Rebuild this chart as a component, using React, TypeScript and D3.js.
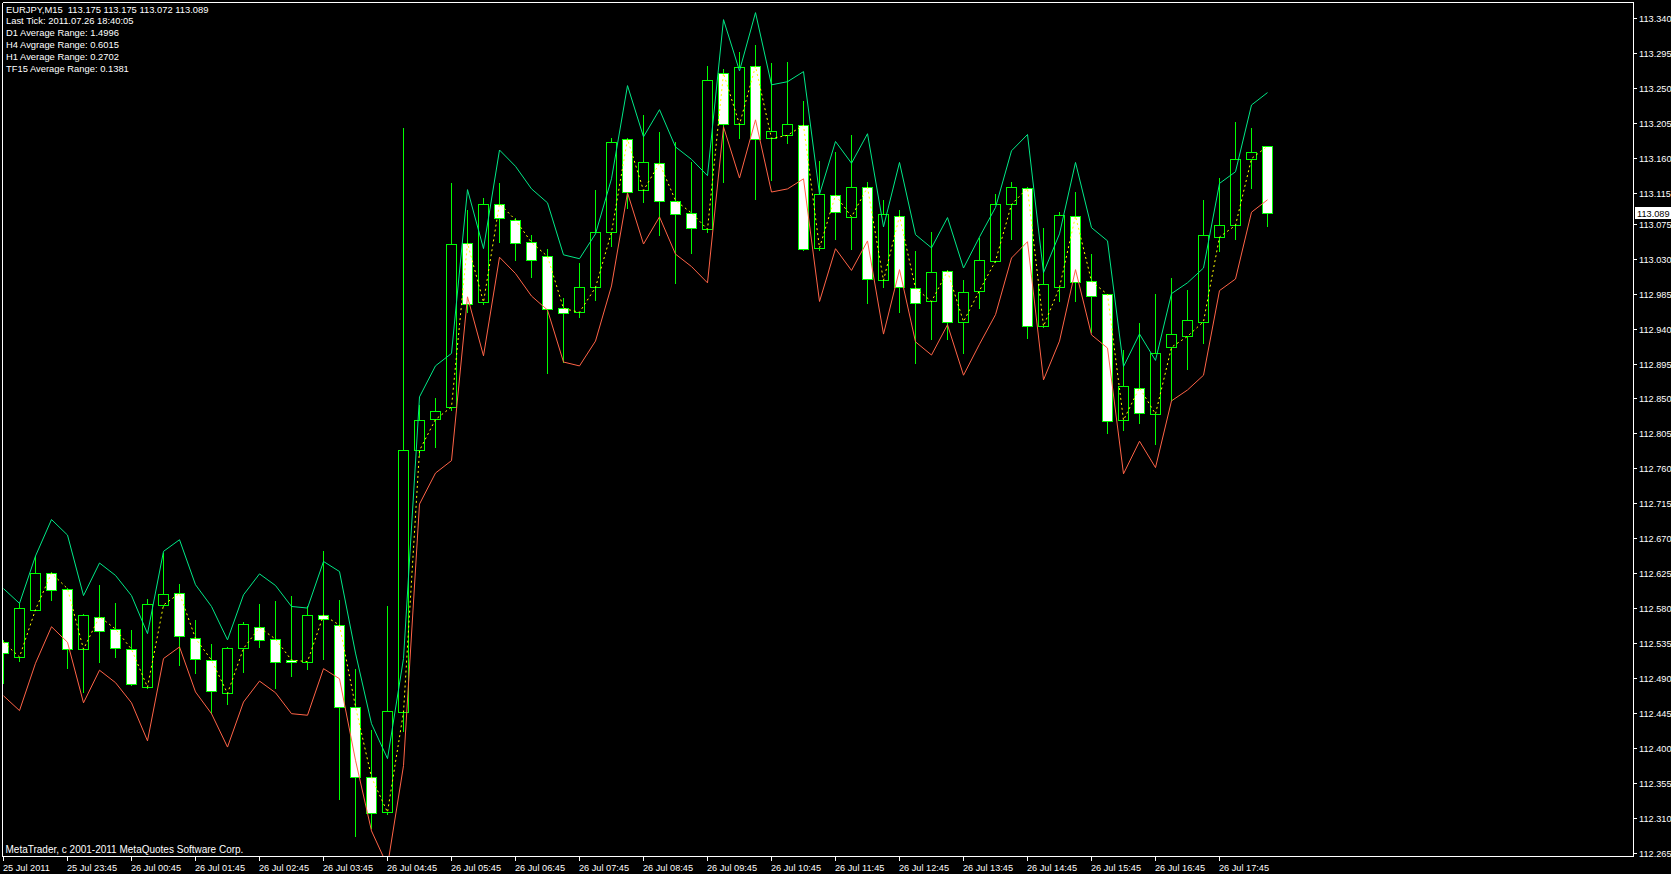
import React from "react";
import * as d3 from "d3";

const W = 1671;
const H = 874;

// OHLC per M15 bar (25 Jul 22:45 .. 26 Jul 18:30)
const opens = [
  112.536, 112.517, 112.578, 112.625, 112.605, 112.527, 112.569, 112.553, 112.527, 112.478,
  112.584, 112.599, 112.541, 112.513, 112.470, 112.528, 112.555, 112.540, 112.513, 112.511,
  112.571, 112.558, 112.453, 112.362, 112.317, 112.446, 112.783, 112.823, 112.839, 113.050,
  112.974, 113.101, 113.080, 113.051, 113.033, 112.966, 112.961, 112.993, 113.064, 113.184,
  113.118, 113.153, 113.105, 113.089, 113.068, 113.269, 113.203, 113.278, 113.185, 113.189,
  113.202, 113.044, 113.112, 113.084, 113.122, 113.002, 113.085, 112.992, 112.975, 113.014,
  112.949, 112.989, 113.027, 113.100, 113.121, 112.943, 112.993, 113.085, 113.001, 112.984,
  112.822, 112.864, 112.830, 112.916, 112.930, 112.949, 113.058, 113.073, 113.159, 113.175,
];
const highs = [
  112.539, 112.586, 112.647, 112.626, 112.606, 112.572, 112.610, 112.586, 112.552, 112.592,
  112.651, 112.611, 112.565, 112.534, 112.530, 112.562, 112.585, 112.589, 112.596, 112.583,
  112.654, 112.591, 112.502, 112.423, 112.583, 113.198, 112.842, 112.850, 113.127, 113.093,
  113.108, 113.127, 113.083, 113.061, 113.042, 112.980, 113.024, 113.119, 113.186, 113.185,
  113.215, 113.193, 113.180, 113.154, 113.278, 113.274, 113.296, 113.305, 113.282, 113.283,
  113.233, 113.156, 113.167, 113.190, 113.129, 113.106, 113.093, 113.040, 113.064, 113.016,
  113.003, 113.057, 113.114, 113.129, 113.122, 113.070, 113.090, 113.116, 113.036, 112.985,
  112.913, 112.947, 112.984, 113.005, 112.990, 113.106, 113.134, 113.206, 113.199, 113.175,
];
const lows = [
  112.483, 112.512, 112.577, 112.590, 112.503, 112.472, 112.510, 112.517, 112.481, 112.477,
  112.583, 112.507, 112.497, 112.445, 112.457, 112.498, 112.530, 112.477, 112.492, 112.501,
  112.514, 112.334, 112.287, 112.297, 112.315, 112.422, 112.777, 112.787, 112.835, 112.962,
  112.972, 113.051, 113.028, 113.007, 112.883, 112.897, 112.955, 112.977, 113.046, 113.096,
  113.103, 113.060, 112.999, 113.037, 113.065, 113.129, 113.186, 113.107, 113.132, 113.179,
  113.041, 113.041, 113.056, 113.042, 112.973, 112.994, 112.962, 112.896, 112.927, 112.927,
  112.909, 112.967, 113.026, 113.056, 112.928, 112.942, 112.976, 112.976, 112.935, 112.806,
  112.809, 112.819, 112.791, 112.848, 112.888, 112.922, 113.040, 113.056, 113.121, 113.072,
];
const closes = [
  112.522, 112.580, 112.625, 112.603, 112.527, 112.571, 112.551, 112.529, 112.482, 112.585,
  112.598, 112.544, 112.515, 112.473, 112.529, 112.559, 112.539, 112.511, 112.510, 112.571,
  112.566, 112.453, 112.362, 112.316, 112.447, 112.784, 112.822, 112.834, 113.049, 112.972,
  113.100, 113.082, 113.050, 113.029, 112.965, 112.960, 112.993, 113.065, 113.180, 113.116,
  113.154, 113.104, 113.087, 113.069, 113.260, 113.204, 113.277, 113.184, 113.194, 113.203,
  113.042, 113.113, 113.090, 113.122, 113.004, 113.087, 112.994, 112.973, 113.013, 112.948,
  112.987, 113.029, 113.100, 113.122, 112.944, 112.998, 113.086, 113.000, 112.982, 112.821,
  112.866, 112.831, 112.908, 112.933, 112.951, 113.060, 113.074, 113.158, 113.168, 113.089,
];

// indicator: open +/- half of TF15 average range
const tf15AverageRange = 0.1381;

const infoLines = [
  "EURJPY,M15  113.175 113.175 113.072 113.089",
  "Last Tick: 2011.07.26 18:40:05",
  "D1 Average Range: 1.4996",
  "H4 Avgrage Range: 0.6015",
  "H1 Average Range: 0.2702",
  "TF15 Average Range: 0.1381",
];

const priceTicks = [
  113.34, 113.295, 113.25, 113.205, 113.16, 113.115, 113.075, 113.03, 112.985, 112.94,
  112.895, 112.85, 112.805, 112.76, 112.715, 112.67, 112.625, 112.58, 112.535, 112.49,
  112.445, 112.4, 112.355, 112.31, 112.265,
];

const timeLabels = [
  "25 Jul 2011", "25 Jul 23:45", "26 Jul 00:45", "26 Jul 01:45", "26 Jul 02:45",
  "26 Jul 03:45", "26 Jul 04:45", "26 Jul 05:45", "26 Jul 06:45", "26 Jul 07:45",
  "26 Jul 08:45", "26 Jul 09:45", "26 Jul 10:45", "26 Jul 11:45", "26 Jul 12:45",
  "26 Jul 13:45", "26 Jul 14:45", "26 Jul 15:45", "26 Jul 16:45", "26 Jul 17:45",
];
const timeLabelEvery = 4;

const lastPrice = 113.089;
const copyright = "MetaTrader, c 2001-2011 MetaQuotes Software Corp.";

const FONT = "'Liberation Sans', Arial, sans-serif";

export default function App() {
  const n = opens.length;
  const left = 2, top = 2, right = 1633, bottom = 856;
  const x = d3.scaleLinear().domain([0, n - 1]).range([3.3, 3.3 + 16 * (n - 1)]);
  const y = d3.scaleLinear().domain([112.265, 113.34]).range([852.6, 18.1]);
  const idx = d3.range(n);
  const half = tf15AverageRange / 2;
  const mk = (f: (i: number) => number) =>
    d3.line<number>().x((i) => Math.round(x(i)) + 0.5).y((i) => y(f(i)))(idx) || "";

  const upper = mk((i) => opens[i] + half);
  const lower = mk((i) => opens[i] - half);
  const mid = mk((i) => opens[i]);

  return (
    <svg
      width={W}
      height={H}
      style={{ position: "absolute", left: 0, top: 0, display: "block", background: "#000" }}
    >
      <defs>
        <clipPath id="plot">
          <rect x={left + 1} y={top + 1} width={right - left - 1} height={bottom - top - 1} />
        </clipPath>
      </defs>
      <rect x={0} y={0} width={W} height={H} fill="#000" />
      <g clipPath="url(#plot)" shapeRendering="crispEdges">
        {idx.map((i) => {
          const cx = Math.round(x(i));
          const yo = Math.round(y(opens[i]));
          const yc = Math.round(y(closes[i]));
          const yh = Math.round(y(highs[i]));
          const yl = Math.round(y(lows[i]));
          const bull = closes[i] >= opens[i];
          const y0 = Math.min(yo, yc);
          const hgt = Math.max(Math.abs(yo - yc), 1);
          return (
            <g key={i}>
              <line x1={cx + 0.5} x2={cx + 0.5} y1={yh} y2={yl + 1} stroke="#00FF00" strokeWidth={1} />
              <rect
                x={cx - 4.5}
                y={y0 + 0.5}
                width={10}
                height={hgt}
                fill={bull ? "#000000" : "#FFFFFF"}
                stroke="#00FF00"
                strokeWidth={1}
              />
            </g>
          );
        })}
      </g>
      <g clipPath="url(#plot)">
        <path d={upper} fill="none" stroke="#00E887" strokeWidth={1} />
        <path d={lower} fill="none" stroke="#FF6347" strokeWidth={1} />
        <path d={mid} fill="none" stroke="#FFFF00" strokeWidth={1} strokeDasharray="2,3" />
      </g>
      {/* frame */}
      <g shapeRendering="crispEdges" stroke="#FFFFFF" strokeWidth={1}>
        <line x1={left + 0.5} x2={right + 0.5} y1={top + 0.5} y2={top + 0.5} />
        <line x1={left + 0.5} x2={left + 0.5} y1={top + 0.5} y2={bottom + 0.5} />
        <line x1={right + 0.5} x2={right + 0.5} y1={top + 0.5} y2={bottom + 0.5} />
        <line x1={left + 0.5} x2={right + 0.5} y1={bottom + 0.5} y2={bottom + 0.5} />
      </g>
      {/* price axis */}
      <g fontFamily={FONT} fontSize={9.2} fill="#FFFFFF">
        {priceTicks.map((p) => {
          const ty = Math.round(y(p));
          return (
            <g key={p}>
              <line x1={right + 1} x2={right + 4} y1={ty + 0.5} y2={ty + 0.5} stroke="#FFFFFF" shapeRendering="crispEdges" />
              <text x={right + 6} y={ty + 3.5}>{p.toFixed(3)}</text>
            </g>
          );
        })}
        <rect x={right + 2} y={Math.round(y(lastPrice)) - 6} width={W - right - 2} height={12} fill="#FFFFFF" />
        <text x={right + 4} y={Math.round(y(lastPrice)) + 3.5} fill="#000000">{lastPrice.toFixed(3)}</text>
      </g>
      {/* time axis */}
      <g fontFamily={FONT} fontSize={9.2} fill="#FFFFFF">
        {timeLabels.map((t, k) => {
          const tx = Math.round(x(k * timeLabelEvery));
          return (
            <g key={t}>
              <line x1={tx + 0.5} x2={tx + 0.5} y1={bottom + 1} y2={bottom + 5} stroke="#FFFFFF" shapeRendering="crispEdges" />
              <text x={tx} y={bottom + 15}>{t}</text>
            </g>
          );
        })}
      </g>
      {/* info text */}
      <g fontFamily={FONT} fontSize={9.4} fill="#FFFFFF">
        {infoLines.map((s, k) => (
          <text key={k} x={6} y={12.5 + 11.9 * k} xmlSpace="preserve" style={{ whiteSpace: "pre" }}>{s}</text>
        ))}
        <text x={5.5} y={bottom - 3} fontSize={10}>{copyright}</text>
      </g>
    </svg>
  );
}
